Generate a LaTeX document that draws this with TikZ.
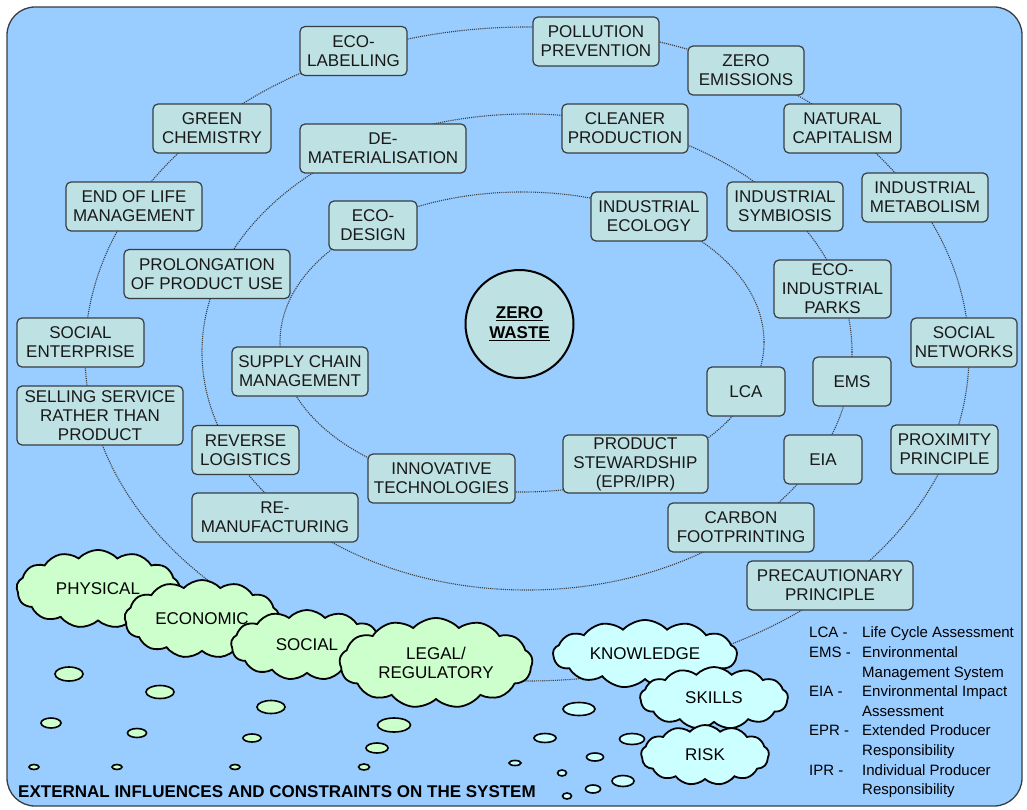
\documentclass[tikz,border=0pt]{standalone}
\usepackage{fontspec}
\setmainfont{Liberation Sans}
\usetikzlibrary{shapes.symbols}

\definecolor{skyback}{RGB}{153,204,255}
\definecolor{topicfill}{RGB}{190,225,228}
\definecolor{greencloud}{RGB}{204,255,204}
\definecolor{bluecloud}{RGB}{204,255,255}
\definecolor{edgegray}{RGB}{55,62,66}

\tikzset{
  topic/.style={draw=edgegray, line width=1.2pt, fill=topicfill, rounded corners=5pt,
    align=center, inner sep=1pt, minimum height=49pt, text=black!90,
    font=\fontsize{17}{19}\selectfont},
  ring/.style={draw=black!75, densely dotted, line width=1.1pt},
  puff/.style={cloud, cloud puffs=13, cloud puff arc=95, cloud ignores aspect,
    draw=black, line width=1.8pt, inner sep=0pt, align=center,
    font=\fontsize{17}{19}\selectfont},
  bubble/.style={draw=black, line width=1.6pt}
}

\begin{document}
\begin{tikzpicture}[x=1pt,y=-1pt]
\fill[white] (0,0) rectangle (1027,810);
\useasboundingbox (0,0) rectangle (1027,810);

% frame
\draw[edgegray, line width=1.3pt, fill=skyback, rounded corners=28pt] (7,7) rectangle (1022,806);

% the three rings
\draw[ring] (522,342) ellipse (242pt and 150pt);
\draw[ring] (527,352) ellipse (325pt and 238pt);
\draw[ring] (527,354) ellipse (442pt and 327pt);

% bubbles under the clouds
\foreach \bx/\by/\bw/\bh in {69/674/14/7, 160/692/14/6.5, 51/723/10/5, 137/733/9.5/4.5,
    271/707/14/6.5, 252/738/9/4, 394/725/16.5/7, 377/748/11/5,
    34/767/5/2.5, 117/767/5/2.5, 235/767/5/2.5, 364/767/5.5/3}
  \draw[bubble, fill=greencloud] (\bx,\by) ellipse ({\bw pt} and {\bh pt});
\foreach \bx/\by/\bw/\bh in {579/709/16/6.5, 545/738/11/4.5, 632/739/12.5/5.5, 595/757/8.5/4,
    623/781/11/5.5, 593/789/7.5/4, 515/763/6/2.5, 562/773/4.5/3, 567/796/4.5/3}
  \draw[bubble, fill=bluecloud] (\bx,\by) ellipse ({\bw pt} and {\bh pt});

% clouds
\node[puff, fill=greencloud, minimum width=163pt, minimum height=78pt] (physical) at (98,589) {PHYSICAL};
\node[puff, fill=greencloud, minimum width=155pt, minimum height=78pt] (economic) at (202,619) {ECONOMIC};
\node[puff, fill=greencloud, minimum width=152pt, minimum height=70pt] (social) at (307,645) {SOCIAL};
\node[puff, fill=greencloud, minimum width=193pt, minimum height=90pt] (legal) at (436,663) {LEGAL/\\REGULATORY};
\node[puff, fill=bluecloud, minimum width=184pt, minimum height=68pt] (knowledge) at (645,654) {KNOWLEDGE};
\node[puff, fill=bluecloud, minimum width=148pt, minimum height=62pt] (skills) at (714,698) {SKILLS};
\node[puff, fill=bluecloud, minimum width=128pt, minimum height=60pt] (risk) at (705,755) {RISK};

% topics
\node[topic, minimum width=107pt] (ecolabel) at (353.5,51) {ECO-\\LABELLING};
\node[topic, minimum width=126pt] (pollution) at (596,41.5) {POLLUTION\\PREVENTION};
\node[topic, minimum width=116pt] (zeroem) at (746,70.5) {ZERO\\EMISSIONS};
\node[topic, minimum width=118pt] (greenchem) at (212,128.5) {GREEN\\CHEMISTRY};
\node[topic, minimum width=166pt] (demat) at (383,148.5) {DE-\\MATERIALISATION};
\node[topic, minimum width=126pt] (cleaner) at (625,128.5) {CLEANER\\PRODUCTION};
\node[topic, minimum width=117pt] (natcap) at (842.5,128.5) {NATURAL\\CAPITALISM};
\node[topic, minimum width=136pt] (endlife) at (134,206.5) {END OF LIFE\\MANAGEMENT};
\node[topic, minimum width=88pt] (ecodesign) at (373,225.5) {ECO-\\DESIGN};
\node[topic, minimum width=116pt] (indeco) at (649,216.5) {INDUSTRIAL\\ECOLOGY};
\node[topic, minimum width=116pt] (indsym) at (785,206.5) {INDUSTRIAL\\SYMBIOSIS};
\node[topic, minimum width=126pt] (indmet) at (925,197.5) {INDUSTRIAL\\METABOLISM};
\node[topic, minimum width=166pt] (prolong) at (207,274) {PROLONGATION\\OF PRODUCT USE};
\node[topic, minimum width=117pt, minimum height=58pt] (ecopark) at (832.5,289) {ECO-\\INDUSTRIAL\\PARKS};
\node[topic, minimum width=127pt] (socent) at (80.5,342.5) {SOCIAL\\ENTERPRISE};
\node[topic, minimum width=106pt] (socnet) at (964,342.5) {SOCIAL\\NETWORKS};
\node[topic, minimum width=136pt] (supply) at (300,371.5) {SUPPLY CHAIN\\MANAGEMENT};
\node[topic, minimum width=78pt] (lca) at (746,391.5) {LCA};
\node[topic, minimum width=78pt] (ems) at (852,381.5) {EMS};
\node[topic, minimum width=166pt, minimum height=59pt] (selling) at (100,415.5) {SELLING SERVICE\\RATHER THAN\\PRODUCT};
\node[topic, minimum width=107pt] (reverse) at (245.5,450) {REVERSE\\LOGISTICS};
\node[topic, minimum width=107pt] (proximity) at (944.5,449.5) {PROXIMITY\\PRINCIPLE};
\node[topic, minimum width=78pt] (eia) at (823,459.5) {EIA};
\node[topic, minimum width=145pt, minimum height=58pt] (steward) at (635.5,464) {PRODUCT\\STEWARDSHIP\\(EPR/IPR)};
\node[topic, minimum width=147pt] (innov) at (441.5,478.5) {INNOVATIVE\\TECHNOLOGIES};
\node[topic, minimum width=166pt] (reman) at (275,517.5) {RE-\\MANUFACTURING};
\node[topic, minimum width=146pt] (carbon) at (741,527.5) {CARBON\\FOOTPRINTING};
\node[topic, minimum width=166pt] (precaution) at (830,585.5) {PRECAUTIONARY\\PRINCIPLE};

% centre
\node[circle, draw=black, line width=2pt, fill=topicfill, minimum size=108pt, align=center,
  font=\bfseries\fontsize{17}{20}\selectfont] (zerowaste) at (519.5,324) {\underline{ZERO}\\\underline{WASTE}};

% abbreviations
\node[anchor=north west, inner sep=0pt, font=\fontsize{15}{19.6}\selectfont] (legend) at (809,624) {%
  \begin{tabular}{@{}p{53pt}@{}l@{}}
  LCA - & Life Cycle Assessment\\
  EMS - & Environmental\\
        & Management System\\
  EIA - & Environmental Impact\\
        & Assessment\\
  EPR - & Extended Producer\\
        & Responsibility\\
  IPR - & Individual Producer\\
        & Responsibility
  \end{tabular}};

\node[anchor=base west, inner sep=0pt, font=\bfseries\fontsize{17}{19}\selectfont] (external) at (18,797)
  {EXTERNAL INFLUENCES AND CONSTRAINTS ON THE SYSTEM};
\end{tikzpicture}
\end{document}
